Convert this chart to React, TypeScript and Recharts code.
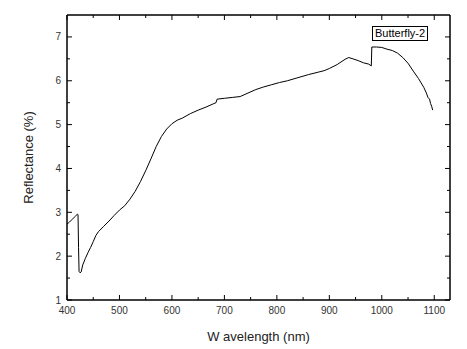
import React from "react";
import { LineChart, Line, XAxis, YAxis } from "recharts";

const wavelengths = [
  400, 405, 410, 415, 420, 421, 422, 423, 425, 427, 430, 435, 440, 445, 450, 455, 460, 470, 480, 490,
  500, 510, 520, 530, 540, 550, 560, 570, 580, 590, 600, 610, 620, 635, 650, 665, 680, 684, 686, 700,
  715, 730, 745, 760, 775, 790, 805, 820, 840, 860, 880, 890, 900, 915, 930, 937, 945, 955, 965, 975,
  980, 981, 990, 1000, 1010, 1020, 1030, 1040, 1050, 1060, 1070, 1080, 1085, 1088, 1091, 1093, 1095, 1097,
];
const reflectance = [
  2.73, 2.78, 2.84, 2.9, 2.96, 2.95, 2.2, 1.65, 1.62, 1.64, 1.8, 1.95, 2.08, 2.2, 2.33, 2.47, 2.56, 2.68, 2.8, 2.93,
  3.05, 3.15, 3.3, 3.48, 3.7, 3.95, 4.22, 4.5, 4.73, 4.9, 5.02, 5.1, 5.15, 5.25, 5.33, 5.4, 5.48, 5.5, 5.58, 5.6,
  5.62, 5.64, 5.72, 5.8, 5.86, 5.91, 5.96, 6.0, 6.07, 6.14, 6.2, 6.23, 6.28, 6.37, 6.49, 6.53, 6.5, 6.46, 6.41, 6.38,
  6.34, 6.77, 6.77, 6.76, 6.72, 6.69, 6.63, 6.53, 6.4, 6.22, 6.05, 5.85, 5.72, 5.62, 5.58, 5.48, 5.42, 5.33,
];
const xTicks = [400, 450, 500, 550, 600, 650, 700, 750, 800, 850, 900, 950, 1000, 1050, 1100];
const yTicks = [1, 1.5, 2, 2.5, 3, 3.5, 4, 4.5, 5, 5.5, 6, 6.5, 7];
const seriesName = "Butterfly-2";

const data = wavelengths.map((w, i) => ({ w, r: reflectance[i] }));

const FONT = "'Liberation Sans', Arial, sans-serif";

const BottomTick = (props: any) => {
  const { x, y, payload } = props;
  const v = payload.value;
  const major = v % 100 === 0;
  return (
    <g>
      <line x1={x} y1={y} x2={x} y2={y - (major ? 5 : 3)} stroke="#000" strokeWidth={1} />
      {major && (
        <text x={x} y={y + 14} textAnchor="middle" fontSize={10} fontFamily={FONT} fill="#333">
          {v}
        </text>
      )}
    </g>
  );
};
const TopTick = (props: any) => {
  const { x, y, payload } = props;
  const major = payload.value % 100 === 0;
  return <line x1={x} y1={y} x2={x} y2={y + (major ? 5 : 3)} stroke="#000" strokeWidth={1} />;
};
const LeftTick = (props: any) => {
  const { x, y, payload } = props;
  const v = payload.value;
  const major = Number.isInteger(v);
  return (
    <g>
      <line x1={x} y1={y} x2={x + (major ? 5 : 3)} y2={y} stroke="#000" strokeWidth={1} />
      {major && (
        <text x={x - 6} y={y + 3.5} textAnchor="end" fontSize={10} fontFamily={FONT} fill="#333">
          {v}
        </text>
      )}
    </g>
  );
};
const RightTick = (props: any) => {
  const { x, y, payload } = props;
  const major = Number.isInteger(payload.value);
  return <line x1={x} y1={y} x2={x - (major ? 5 : 3)} y2={y} stroke="#000" strokeWidth={1} />;
};

export default function App() {
  return (
    <div style={{ position: "absolute", left: 0, top: 0, width: 467, height: 349, background: "#fff" }}>
      <LineChart width={467} height={349} data={data} margin={{ top: 14, right: 16, bottom: 0, left: 0 }}>
        <XAxis
          dataKey="w"
          type="number"
          domain={[400, 1130]}
          ticks={xTicks}
          allowDataOverflow
          height={49}
          tickSize={0}
          tickMargin={0}
          tickLine={false}
          tick={<BottomTick />}
          axisLine={{ stroke: "#000", strokeWidth: 1.5 }}
          interval={0}
          label={{
            value: "W avelength (nm)",
            position: "insideBottom",
            offset: 8,
            style: { fontFamily: FONT, fontSize: 13, fill: "#222" },
          }}
        />
        <XAxis
          xAxisId="top"
          dataKey="w"
          orientation="top"
          type="number"
          domain={[400, 1130]}
          ticks={xTicks}
          allowDataOverflow
          height={1}
          tickSize={0}
          tickMargin={0}
          tickLine={false}
          tick={<TopTick />}
          axisLine={{ stroke: "#000", strokeWidth: 1.5 }}
          interval={0}
        />
        <YAxis
          type="number"
          domain={[1, 7.5]}
          ticks={yTicks}
          allowDataOverflow
          width={67}
          tickSize={0}
          tickMargin={0}
          tickLine={false}
          tick={<LeftTick />}
          axisLine={{ stroke: "#000", strokeWidth: 1.5 }}
          interval={0}
          label={{
            value: "Reflectance (%)",
            angle: -90,
            position: "insideLeft",
            offset: 28,
            style: { fontFamily: FONT, fontSize: 13, fill: "#222", textAnchor: "middle" },
          }}
        />
        <YAxis
          yAxisId="right"
          orientation="right"
          type="number"
          domain={[1, 7.5]}
          ticks={yTicks}
          allowDataOverflow
          width={1}
          tickSize={0}
          tickMargin={0}
          tickLine={false}
          tick={<RightTick />}
          axisLine={{ stroke: "#000", strokeWidth: 1.5 }}
          interval={0}
        />
        <Line
          xAxisId="top"
          yAxisId="right"
          dataKey="r"
          legendType="none"
          stroke="none"
          dot={false}
          activeDot={false}
          isAnimationActive={false}
        />
        <Line
          dataKey="r"
          name={seriesName}
          type="linear"
          stroke="#000"
          strokeWidth={1}
          dot={false}
          isAnimationActive={false}
        />
      </LineChart>
      <div
        style={{
          position: "absolute",
          left: 372,
          top: 26,
          border: "1px solid #000",
          background: "#fff",
          fontFamily: FONT,
          fontSize: 11,
          lineHeight: "13px",
          padding: "0 2px",
          color: "#000",
          whiteSpace: "nowrap",
        }}
      >
        {seriesName}
      </div>
    </div>
  );
}
